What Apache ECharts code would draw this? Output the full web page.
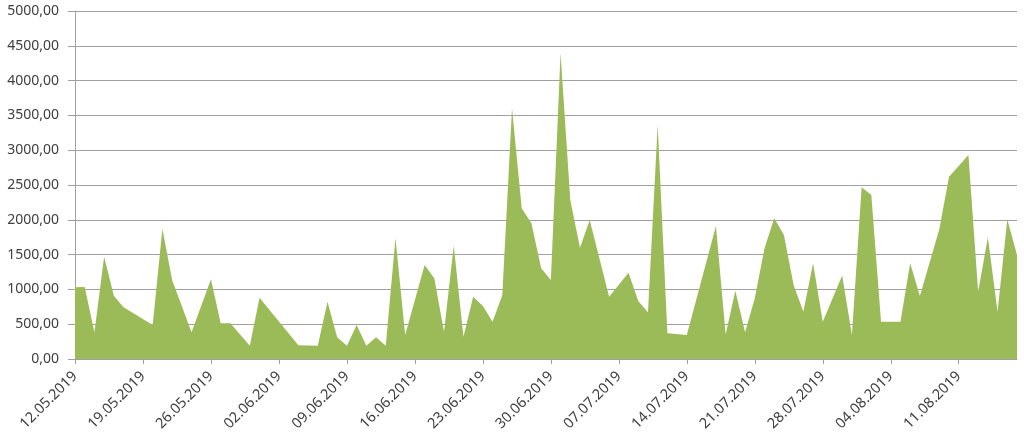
<!DOCTYPE html>
<html>
<head>
<meta charset="utf-8">
<script src="https://cdn.jsdelivr.net/npm/echarts@6/dist/echarts.min.js"></script>
<style>
html,body{margin:0;padding:0;background:#fff;}
#chart{width:1024px;height:442px;}
</style>
</head>
<body>
<div id="chart"></div>
<script>
// Start date of the daily category axis (12.05.2019) and number of days
var startDate = [2019, 5, 12];
var dayCount = 98;

// Daily values (null = no data point that day, line connects across)
var values = [
  1030, 1035, 383, 1470, 910, 742, null, null, 489, 1873,
  1135, null, 383, null, 1145, 512, 512, null, 192, 881,
  null, null, null, 196, null, 192, 824, 311, 192, 489,
  192, 311, 192, 1740, 345, null, 1350, 1159, 393, 1629,
  321, 896, 762, 536, 920, 3602, 2165, 1950, 1303, 1135,
  4392, 2285, 1600, 1997, null, 896, null, 1240, 833, 670,
  3363, 369, null, 345, null, null, 1911, 354, 982, 383,
  872, 1590, 2021, 1782, 1063, 680, 1375, 536, null, 1198,
  345, 2467, 2357, 536, null, 536, 1375, 905, null, 1863,
  2620, null, 2931, 967, 1748, 680, 2007, 1494
];

// Y axis tick values
var yTicks = [0, 500, 1000, 1500, 2000, 2500, 3000, 3500, 4000, 4500, 5000];

function pad(n){ return (n < 10 ? '0' : '') + n; }
var categories = [];
for (var i = 0; i < dayCount; i++) {
  var d = new Date(Date.UTC(startDate[0], startDate[1] - 1, startDate[2] + i));
  categories.push(pad(d.getUTCDate()) + '.' + pad(d.getUTCMonth() + 1) + '.' + d.getUTCFullYear());
}

var chart = echarts.init(document.getElementById('chart'), null, {renderer: 'canvas'});
chart.setOption({
  animation: false,
  grid: {left: 75, right: 7, top: 11, bottom: 83, containLabel: false},
  xAxis: {
    type: 'category',
    data: categories,
    boundaryGap: false,
    axisLine: {show: true, lineStyle: {color: '#A0A0A0', width: 1}},
    axisTick: {show: true, interval: 6, length: 5, lineStyle: {color: '#A0A0A0'}},
    axisLabel: {
      interval: 6, rotate: 45, color: '#404040',
      fontFamily: 'Noto Sans', fontSize: 14.5, margin: 15
    },
    splitLine: {show: false}
  },
  yAxis: {
    type: 'value',
    min: yTicks[0],
    max: yTicks[yTicks.length - 1],
    interval: yTicks[1] - yTicks[0],
    axisLine: {show: true, lineStyle: {color: '#A0A0A0', width: 1}},
    axisTick: {show: true, length: 7, lineStyle: {color: '#A0A0A0'}},
    axisLabel: {
      color: '#404040', fontFamily: 'Noto Sans', fontSize: 14, margin: 16,
      formatter: function(v){ return v.toFixed(2).replace('.', ','); }
    },
    splitLine: {show: true, lineStyle: {color: '#A0A0A0', width: 1}}
  },
  series: [{
    type: 'line',
    data: values,
    connectNulls: true,
    showSymbol: false,
    symbol: 'none',
    lineStyle: {width: 0, color: '#9BBB59'},
    areaStyle: {color: '#9BBB59', opacity: 1}
  }]
});
</script>
</body>
</html>
